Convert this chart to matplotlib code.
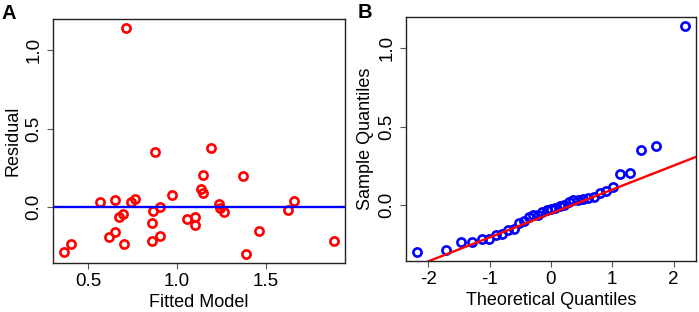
import numpy as np
import matplotlib
matplotlib.use("Agg")
import matplotlib.pyplot as plt

plt.rcParams['font.family'] = ['Liberation Sans', 'DejaVu Sans']
plt.rcParams['axes.unicode_minus'] = False

# panel A: fitted values vs residuals
fitted = [0.714, 0.876, 1.191, 1.146, 1.373, 1.137, 1.146, 0.975, 0.567, 0.651,
          0.740, 0.764, 1.658, 1.239, 1.243, 1.262, 0.902, 0.865, 1.623, 0.694,
          0.675, 0.861, 1.059, 1.100, 1.100, 0.653, 0.619, 0.904, 0.861, 1.461,
          0.703, 0.407, 0.364, 1.388, 1.884]
residual = [1.142, 0.350, 0.377, 0.203, 0.199, 0.119, 0.089, 0.076, 0.034, 0.047,
            0.036, 0.055, 0.042, 0.021, -0.006, -0.032, 0.000, -0.021, -0.019, -0.040,
            -0.061, -0.102, -0.076, -0.064, -0.112, -0.159, -0.191, -0.180, -0.212, -0.150,
            -0.231, -0.235, -0.284, -0.297, -0.216]

# panel B: theoretical normal quantiles (lower half, mirrored for upper half)
theo_lower = [-2.190, -1.718, -1.465, -1.282, -1.133, -1.006, -0.894, -0.792, -0.697,
              -0.609, -0.524, -0.444, -0.366, -0.290, -0.217, -0.144, -0.072]
theoretical = theo_lower + [0.0] + [-v for v in theo_lower[::-1]]
sample_q = np.sort(residual)

# qqline through the quartiles
q1, q3 = np.quantile(residual, [0.25, 0.75])
z1, z3 = -0.6745, 0.6745
slope = (q3 - q1) / (z3 - z1)
icpt = q1 - slope * z1


def r_lim(v):
    lo, hi = min(v), max(v)
    pad = 0.04 * (hi - lo)
    return lo - pad, hi + pad


W, H = 699, 312
fig = plt.figure(figsize=(W / 100, H / 100), dpi=100)
axA = fig.add_axes([53 / W, 1 - 263 / H, (345 - 53) / W, (263 - 19) / H])
axB = fig.add_axes([406 / W, 1 - 261 / H, (696 - 406) / W, (261 - 17) / H])

mk = dict(marker='o', linestyle='none', markerfacecolor='none',
          markersize=5.9, markeredgewidth=1.9)

axA.plot(fitted, residual, color='#ff0000', **mk)
axA.axhline(0, color='#0000ff', lw=1.7)
axA.set_xlim(*r_lim(fitted))
axA.set_ylim(*r_lim(residual))
axA.set_xticks([0.5, 1.0, 1.5])
axA.set_yticks([0.0, 0.5, 1.0])
axA.set_xlabel('Fitted Model', fontsize=13, labelpad=3)
axA.set_ylabel('Residual', fontsize=13, labelpad=3)

axB.plot(theoretical, sample_q, color='#0000ff', **mk)
axB.axline((0, icpt), slope=slope, color='#ff0000', lw=1.7)
axB.set_xlim(*r_lim(theoretical))
axB.set_ylim(*r_lim(residual))
axB.set_xticks([-2, -1, 0, 1, 2])
axB.set_yticks([0.0, 0.5, 1.0])
axB.set_xlabel('Theoretical Quantiles', fontsize=13, labelpad=3)
axB.set_ylabel('Sample Quantiles', fontsize=13, labelpad=3)

for ax in (axA, axB):
    for s in ax.spines.values():
        s.set_color('#222222')
        s.set_linewidth(1.0)
    ax.tick_params(length=4.5, width=0.8, color='#555555', labelsize=13.5, pad=2.5)
    ax.tick_params(axis='y', labelrotation=90, pad=3)
    for lab in ax.get_yticklabels():
        lab.set_va('center')

fig.text(2 / W, 1 - 4 / H, 'A', fontsize=14.5, fontweight='bold', va='top', ha='left')
fig.text(358 / W, 1 - 3 / H, 'B', fontsize=14.5, fontweight='bold', va='top', ha='left')

fig.savefig('out.png', dpi=100)
